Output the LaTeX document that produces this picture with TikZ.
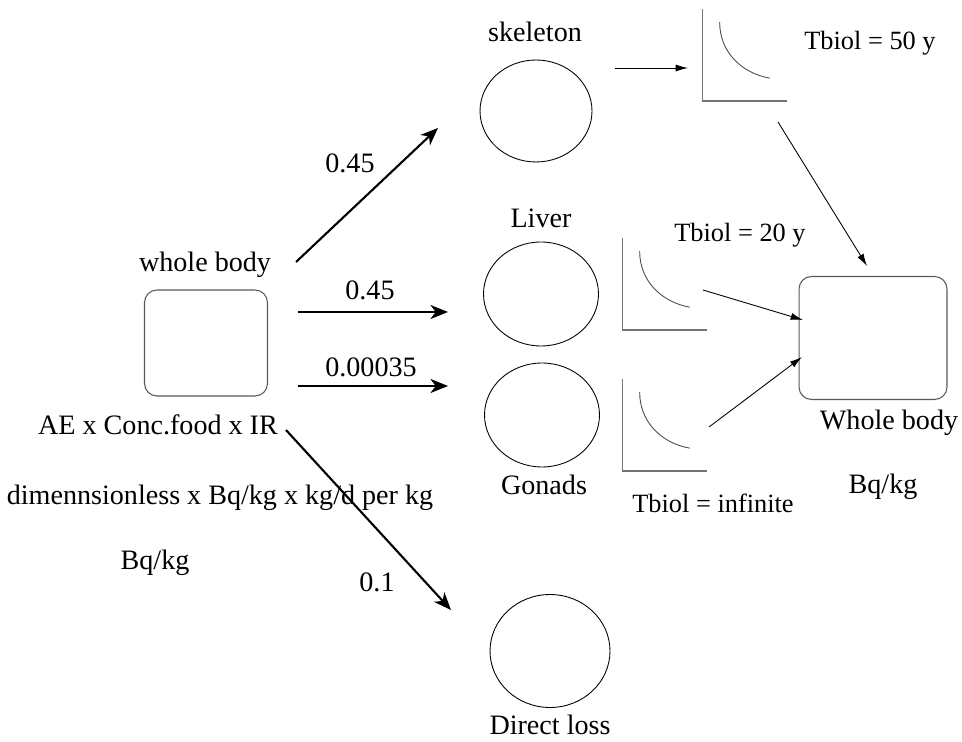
\documentclass[tikz,border=0pt]{standalone}
\usepackage{fontspec}
\setmainfont{Liberation Serif}
\usetikzlibrary{arrows.meta}
\usetikzlibrary{shapes.geometric}

\begin{document}
\begin{tikzpicture}[x=0.02cm,y=-0.02cm]
	\tikzstyle{lab}=[inner sep=0pt,font=\fontsize{16}{18}\selectfont]
	\tikzstyle{tlab}=[inner sep=0pt,font=\fontsize{15}{17}\selectfont]
	\tikzstyle{organ}=[ellipse,draw,line width=0.5pt,inner sep=0pt,minimum width=2.3cm,minimum height=2.08cm]
	\tikzstyle{body}=[rectangle,draw=black!65,line width=0.6pt,rounded corners=0.25cm,inner sep=0pt]
	\tikzstyle{plotbox}=[rectangle,inner sep=0pt,minimum width=1.68cm,minimum height=1.82cm]
	\tikzstyle{axis}=[draw=black!55,line width=0.9pt]
	\tikzstyle{decay}=[draw=black!70,line width=0.5pt]
	\tikzstyle{flux}=[-{Stealth[length=10pt,width=8pt,inset=3pt]},line width=1.2pt]
	\tikzstyle{link}=[-{Latex[length=7pt,width=4pt]},line width=0.5pt]
	\useasboundingbox (0,0) rectangle (962,742);
	% compartments
	\node[body,minimum width=2.46cm,minimum height=2.12cm] (in) at (206,343){};
	\node[body,minimum width=2.96cm,minimum height=2.46cm] (out) at (873,338){};
	\node[organ,minimum width=2.24cm,minimum height=2.04cm] (skel) at (536,111){};
	\node[organ] (liver) at (541,294){};
	\node[organ] (gon) at (542,415){};
	\node[organ,minimum width=2.4cm,minimum height=2.26cm] (loss) at (550,651){};
	% labels
	\node[lab] (l1) at (205,265){whole body};
	\node[lab] (l2) at (158,425){AE x Conc.food x IR};
	\node[lab] (l3) at (220,498){dimennsionless x Bq/kg x kg/d per kg};
	\node[lab] (l4) at (155,563){Bq/kg};
	\node[lab] (l5) at (535,32){skeleton};
	\node[lab] (l6) at (541,218){Liver};
	\node[lab] (l7) at (544,485){Gonads};
	\node[lab] (l8) at (550,725){Direct loss};
	\node[lab] (l9) at (889,423){Whole body};
	\node[lab] (l10) at (883,487){Bq/kg};
	\node[lab] (f1) at (350,163){0.45};
	\node[lab] (f2) at (370,290){0.45};
	\node[lab] (f3) at (371,367){0.00035};
	\node[lab] (f4) at (377,582){0.1};
	\node[tlab] (t1) at (870,43){Tbiol = 50 y};
	\node[tlab] (t2) at (740,235){Tbiol = 20 y};
	\node[tlab] (t3) at (713,503){Tbiol = infinite};
	% retention curves
	\node[plotbox] (p1) at (745,55){};
	\node[plotbox] (p2) at (665,284){};
	\node[plotbox] (p3) at (665,425){};
	\foreach \p in {p1,p2,p3}{
		\draw[axis] (\p.north west) |- (\p.south east);
		\draw[decay] ([shift={(17,13)}]\p.north west) .. controls +(0,30) and +(-28,-5) .. ([shift={(67,69)}]\p.north west);
	}
	% fluxes
	\coordinate (a1) at (296,262); \coordinate (b1) at (438,128);
	\coordinate (a2) at (298,312); \coordinate (b2) at (448,312);
	\coordinate (a3) at (298,386); \coordinate (b3) at (448,386);
	\coordinate (a4) at (286,430); \coordinate (b4) at (451,610);
	\draw[flux] (a1) -- (b1);
	\draw[flux] (a2) -- (b2);
	\draw[flux] (a3) -- (b3);
	\draw[flux] (a4) -- (b4);
	\coordinate (c1) at (615,68); \coordinate (d1) at (688,68);
	\coordinate (c2) at (778,122); \coordinate (d2) at (867,266);
	\coordinate (c3) at (703,290); \coordinate (d3) at (803,320);
	\coordinate (c4) at (709,427); \coordinate (d4) at (802,357);
	\draw[link] (c1) -- (d1);
	\draw[link] (c2) -- (d2);
	\draw[link] (c3) -- (d3);
	\draw[link] (c4) -- (d4);
\end{tikzpicture}
\end{document}
